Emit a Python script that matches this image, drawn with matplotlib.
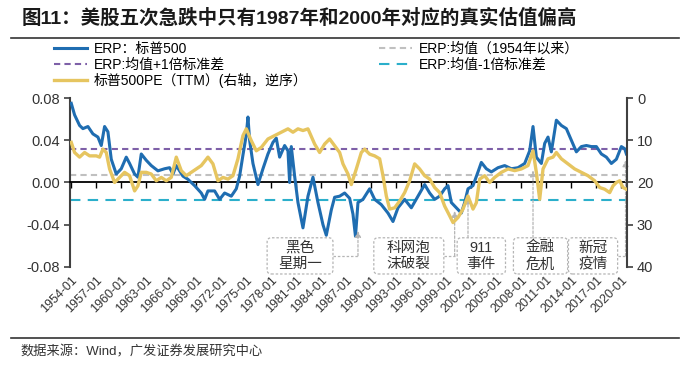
import matplotlib.pyplot as plt
import matplotlib.patches as mpatches
from matplotlib.lines import Line2D

plt.rcParams['font.family'] = ['Liberation Sans', 'Noto Sans CJK SC']
plt.rcParams['axes.unicode_minus'] = False

# ERP: 标普500 (左轴)
erp_year = [1954.0, 1954.4, 1955.0, 1955.4, 1956.0, 1956.6, 1957.2, 1957.6, 1958.0, 1958.4,
            1958.8, 1959.4, 1960.0, 1960.6, 1961.0, 1961.6, 1962.0, 1962.4, 1963.0, 1963.6,
            1964.4, 1965.2, 1965.8, 1966.2, 1966.6, 1967.4, 1968.0, 1968.8, 1969.6, 1970.0,
            1970.4, 1971.2, 1971.8, 1972.4, 1973.2, 1973.8, 1974.2, 1974.6, 1975.0, 1975.2,
            1975.4, 1975.8, 1976.4, 1977.0, 1977.6, 1978.2, 1978.6, 1979.0, 1979.6, 1980.0,
            1980.2, 1980.4, 1980.8, 1981.2, 1981.8, 1982.4, 1983.0, 1983.6, 1984.2, 1984.6,
            1985.2, 1985.6, 1986.2, 1986.8, 1987.4, 1987.8, 1988.1, 1988.4, 1989.0, 1989.8,
            1990.4, 1991.2, 1992.0, 1992.6, 1993.2, 1994.0, 1994.8, 1995.6, 1996.4, 1997.0,
            1997.6, 1998.2, 1998.8, 1999.2, 1999.6, 2000.2, 2000.8, 2001.2, 2001.6, 2002.2,
            2002.8, 2003.2, 2003.8, 2004.4, 2005.2, 2006.0, 2006.8, 2007.6, 2008.4, 2009.0,
            2009.4, 2009.8, 2010.4, 2010.8, 2011.2, 2011.6, 2012.2, 2012.8, 2013.4, 2014.0,
            2014.6, 2015.2, 2015.8, 2016.4, 2017.0, 2017.6, 2018.2, 2018.8, 2019.4, 2020.0,
            2020.4, 2020.6]
erp_value = [0.075, 0.064, 0.054, 0.051, 0.053, 0.046, 0.043, 0.035, 0.053, 0.048,
             0.022, 0.008, 0.013, 0.024, 0.018, 0.008, 0.005, 0.027, 0.021, 0.016,
             0.011, 0.013, 0.014, 0.008, 0.016, 0.006, 0.003, -0.003, -0.010, -0.016,
             -0.008, -0.008, -0.016, -0.010, -0.013, -0.006, 0.006, 0.026, 0.045, 0.062,
             0.040, 0.018, -0.002, 0.013, 0.027, 0.038, 0.042, 0.024, 0.035, 0.030,
             0.000, 0.034, 0.006, -0.019, -0.043, -0.013, 0.005, -0.019, -0.040, -0.050,
             -0.026, -0.014, -0.013, -0.010, -0.015, -0.030, -0.051, -0.019, -0.016, -0.006,
             -0.016, -0.021, -0.029, -0.037, -0.024, -0.016, -0.024, -0.013, -0.002, -0.010,
             -0.016, -0.013, -0.006, -0.003, -0.019, -0.024, -0.029, -0.019, -0.006, -0.003,
             0.010, 0.019, 0.013, 0.010, 0.014, 0.016, 0.013, 0.014, 0.018, 0.030,
             0.053, 0.024, 0.018, 0.037, 0.043, 0.029, 0.059, 0.054, 0.051, 0.040,
             0.029, 0.034, 0.035, 0.034, 0.034, 0.027, 0.024, 0.018, 0.022, 0.034,
             0.032, 0.027]

# 标普500PE(TTM) (右轴, 逆序)
pe_year = [1954.0, 1954.4, 1955.0, 1955.6, 1956.2, 1957.0, 1957.4, 1957.8, 1958.2, 1958.6,
           1959.2, 1959.8, 1960.4, 1961.0, 1961.6, 1962.0, 1962.4, 1963.0, 1963.6, 1964.2,
           1964.8, 1965.4, 1966.0, 1966.6, 1967.2, 1967.8, 1968.4, 1969.0, 1969.6, 1970.4,
           1971.0, 1971.6, 1972.2, 1972.8, 1973.4, 1974.0, 1974.6, 1975.0, 1975.6, 1976.2,
           1976.8, 1977.6, 1978.4, 1979.2, 1980.0, 1980.6, 1981.2, 1981.8, 1982.4, 1983.2,
           1983.8, 1984.4, 1985.0, 1985.6, 1986.2, 1986.6, 1987.2, 1987.6, 1988.2, 1988.8,
           1989.2, 1989.8, 1990.4, 1991.0, 1991.4, 1991.8, 1992.2, 1992.8, 1993.4, 1994.0,
           1994.6, 1995.2, 1995.8, 1996.4, 1997.0, 1997.6, 1998.2, 1998.8, 1999.4, 1999.8,
           2000.4, 2001.0, 2001.6, 2002.2, 2002.6, 2003.0, 2003.6, 2004.2, 2004.8, 2005.6,
           2006.4, 2007.2, 2008.0, 2008.8, 2009.4, 2009.8, 2010.2, 2010.6, 2011.2, 2011.8,
           2012.2, 2012.8, 2013.6, 2014.4, 2015.2, 2016.0, 2016.8, 2017.4, 2018.0, 2018.6,
           2019.0, 2019.4, 2019.8, 2020.2, 2020.6]
pe_value = [10.5, 12.9, 14.0, 12.9, 13.7, 13.7, 14.0, 12.1, 12.9, 16.8,
            20.0, 18.8, 17.6, 18.4, 22.0, 20.8, 17.6, 17.6, 18.0, 19.6,
            18.8, 19.6, 18.8, 14.0, 17.2, 18.4, 17.6, 16.8, 16.0, 14.0,
            15.6, 19.6, 18.8, 19.2, 18.4, 14.4, 8.9, 7.3, 10.1, 12.5,
            11.7, 9.7, 8.9, 8.1, 7.3, 8.1, 7.3, 7.7, 7.3, 10.9,
            12.9, 10.9, 9.7, 11.3, 12.9, 15.6, 18.0, 20.5, 16.8, 12.9,
            12.1, 13.3, 13.7, 14.4, 18.4, 23.2, 26.3, 26.0, 24.4, 22.4,
            19.6, 15.6, 16.8, 18.4, 19.2, 21.2, 22.4, 25.6, 27.9, 29.5,
            28.3, 26.3, 23.2, 26.3, 24.8, 19.2, 18.4, 20.0, 18.8, 17.6,
            16.8, 17.2, 16.8, 16.0, 12.5, 17.6, 24.0, 16.8, 14.4, 14.0,
            12.9, 14.4, 15.6, 16.8, 17.6, 18.4, 19.6, 21.2, 21.6, 22.4,
            20.8, 20.0, 19.6, 21.2, 21.6]

erp_mean = 0.0074
erp_std = 0.024

tick_years = list(range(1954, 2021, 3))
tick_labels = [f'{y}-01' for y in tick_years]

event_labels = ['黑色\n星期一', '科网泡\n沫破裂', '911\n事件', '金融\n危机', '新冠\n疫情']
event_years = [1988.4, 2000.0, 2001.6, 2009.4, 2020.5]
event_erp = [-0.046, -0.027, -0.0143, 0.0114, 0.021]

title = '图11：美股五次急跌中只有1987年和2000年对应的真实估值偏高'
source = '数据来源：Wind，广发证券发展研究中心'

blue = '#1F6DB1'
yellow = '#E6C560'
purple = '#7E60A8'
grey_ref = '#C0C0C0'
cyan = '#2BAFCB'
box_grey = '#B5B5B5'

fig = plt.figure(figsize=(7, 3.77), dpi=100)
ax = fig.add_axes([0.1, 0.292, 0.796, 0.448])
ax2 = ax.twinx()

l_erp, = ax.plot(erp_year, erp_value, color=blue, lw=2.2, zorder=3)
l_mean = ax.axhline(erp_mean, color=grey_ref, lw=1.5, dashes=(3, 2), zorder=2)
l_up = ax.axhline(erp_mean + erp_std, color=purple, lw=1.5, dashes=(3, 2), zorder=2)
l_dn = ax.axhline(erp_mean - erp_std, color=cyan, lw=1.5, dashes=(5, 3.5), zorder=2)
l_pe, = ax2.plot(pe_year, pe_value, color=yellow, lw=2.4, zorder=3)

ax.set_xlim(1953.85, 2020.7)
ax.set_ylim(-0.08, 0.08)
ax.set_yticks([0.08, 0.04, 0.0, -0.04, -0.08])
ax.set_yticklabels(['0.08', '0.04', '0.00', '-0.04', '-0.08'])
ax2.set_ylim(40, 0)
ax2.set_yticks([0, 10, 20, 30, 40])

for s in ['top', 'right']:
    ax.spines[s].set_visible(False)
for s in ['top', 'left', 'bottom']:
    ax2.spines[s].set_visible(False)
ax.spines['left'].set_color('#404040')
ax.spines['left'].set_linewidth(1.5)
ax2.spines['right'].set_color('#404040')
ax2.spines['right'].set_linewidth(1.5)
ax.spines['bottom'].set_position(('data', 0))
ax.spines['bottom'].set_color('black')
ax.spines['bottom'].set_linewidth(1.3)

ax.set_xticks(tick_years)
ax.tick_params(axis='x', direction='out', length=4, width=1, labelbottom=False)
ax.tick_params(axis='y', direction='out', length=4, width=1.2, color='#404040',
               labelsize=10.5, labelcolor='#333333', pad=3)
ax2.tick_params(axis='y', direction='out', length=4, width=1.2, color='#404040',
                labelsize=10.5, labelcolor='#333333', pad=3)

sec = ax.secondary_xaxis('bottom')
sec.spines['bottom'].set_visible(False)
sec.set_xticks(tick_years)
sec.set_xticklabels(tick_labels, rotation=45, ha='right', rotation_mode='anchor',
                    fontsize=9, color='#333333')
sec.tick_params(length=0, pad=5)

# 事件标注框
box_center = [1981.45, 1994.5, 2003.2, 2010.3, 2016.6]
box_width = [7.9, 8.4, 5.8, 6.5, 5.9]
box_side = [True, True, False, False, True]
box_bottom, box_top = -0.0867, -0.0524
box_mid = (box_bottom + box_top) / 2
for lab, ex, ey, bc, bw, side in zip(event_labels, event_years, event_erp,
                                     box_center, box_width, box_side):
    patch = mpatches.FancyBboxPatch((bc - bw / 2, box_bottom), bw, box_top - box_bottom,
                                    boxstyle='round,pad=0,rounding_size=0.5',
                                    mutation_aspect=0.008, transform=ax.transData,
                                    fc='white', ec=box_grey, lw=0.9, ls=(0, (2, 1.5)),
                                    clip_on=False, zorder=5)
    ax.add_patch(patch)
    ax.text(bc, box_mid, lab, ha='center', va='center', fontsize=10.5,
            color='#333333', linespacing=1.25, zorder=6, clip_on=False)
    if side:
        ax.plot([bc + bw / 2, ex], [box_mid, box_mid], color=box_grey, lw=0.9,
                ls=(0, (2, 1.5)), clip_on=False, zorder=4)
        start = box_mid
    else:
        start = box_top
    ax.annotate('', xy=(ex, ey), xytext=(ex, start), annotation_clip=False,
                arrowprops=dict(arrowstyle='-|>', color=box_grey, lw=0.9,
                                ls=(0, (2, 1.5)), mutation_scale=9,
                                shrinkA=0, shrinkB=0), zorder=4)

handles = [l_erp, l_up, l_pe, l_mean, l_dn]
labels = ['ERP：标普500', 'ERP:均值+1倍标准差', '标普500PE（TTM）(右轴，逆序）',
          'ERP:均值（1954年以来）', 'ERP:均值-1倍标准差']
fig.legend(handles, labels, ncol=2, loc='upper left', bbox_to_anchor=(0.077, 0.889),
           frameon=False, fontsize=10, handlelength=2.4, handletextpad=0.5,
           labelspacing=0.12, columnspacing=5.1, borderpad=0, borderaxespad=0)

fig.text(0.031, 0.952, title, fontsize=14, fontweight='bold', va='center', color='#1a1a1a')
fig.add_artist(Line2D([0.015, 0.97], [0.899, 0.899], color='#333333', lw=1.2))
fig.add_artist(Line2D([0.015, 0.97], [0.103, 0.103], color='#333333', lw=1.2))
fig.text(0.029, 0.066, source, fontsize=9.5, va='center', color='#333333')

fig.savefig('out.png', dpi=100)
